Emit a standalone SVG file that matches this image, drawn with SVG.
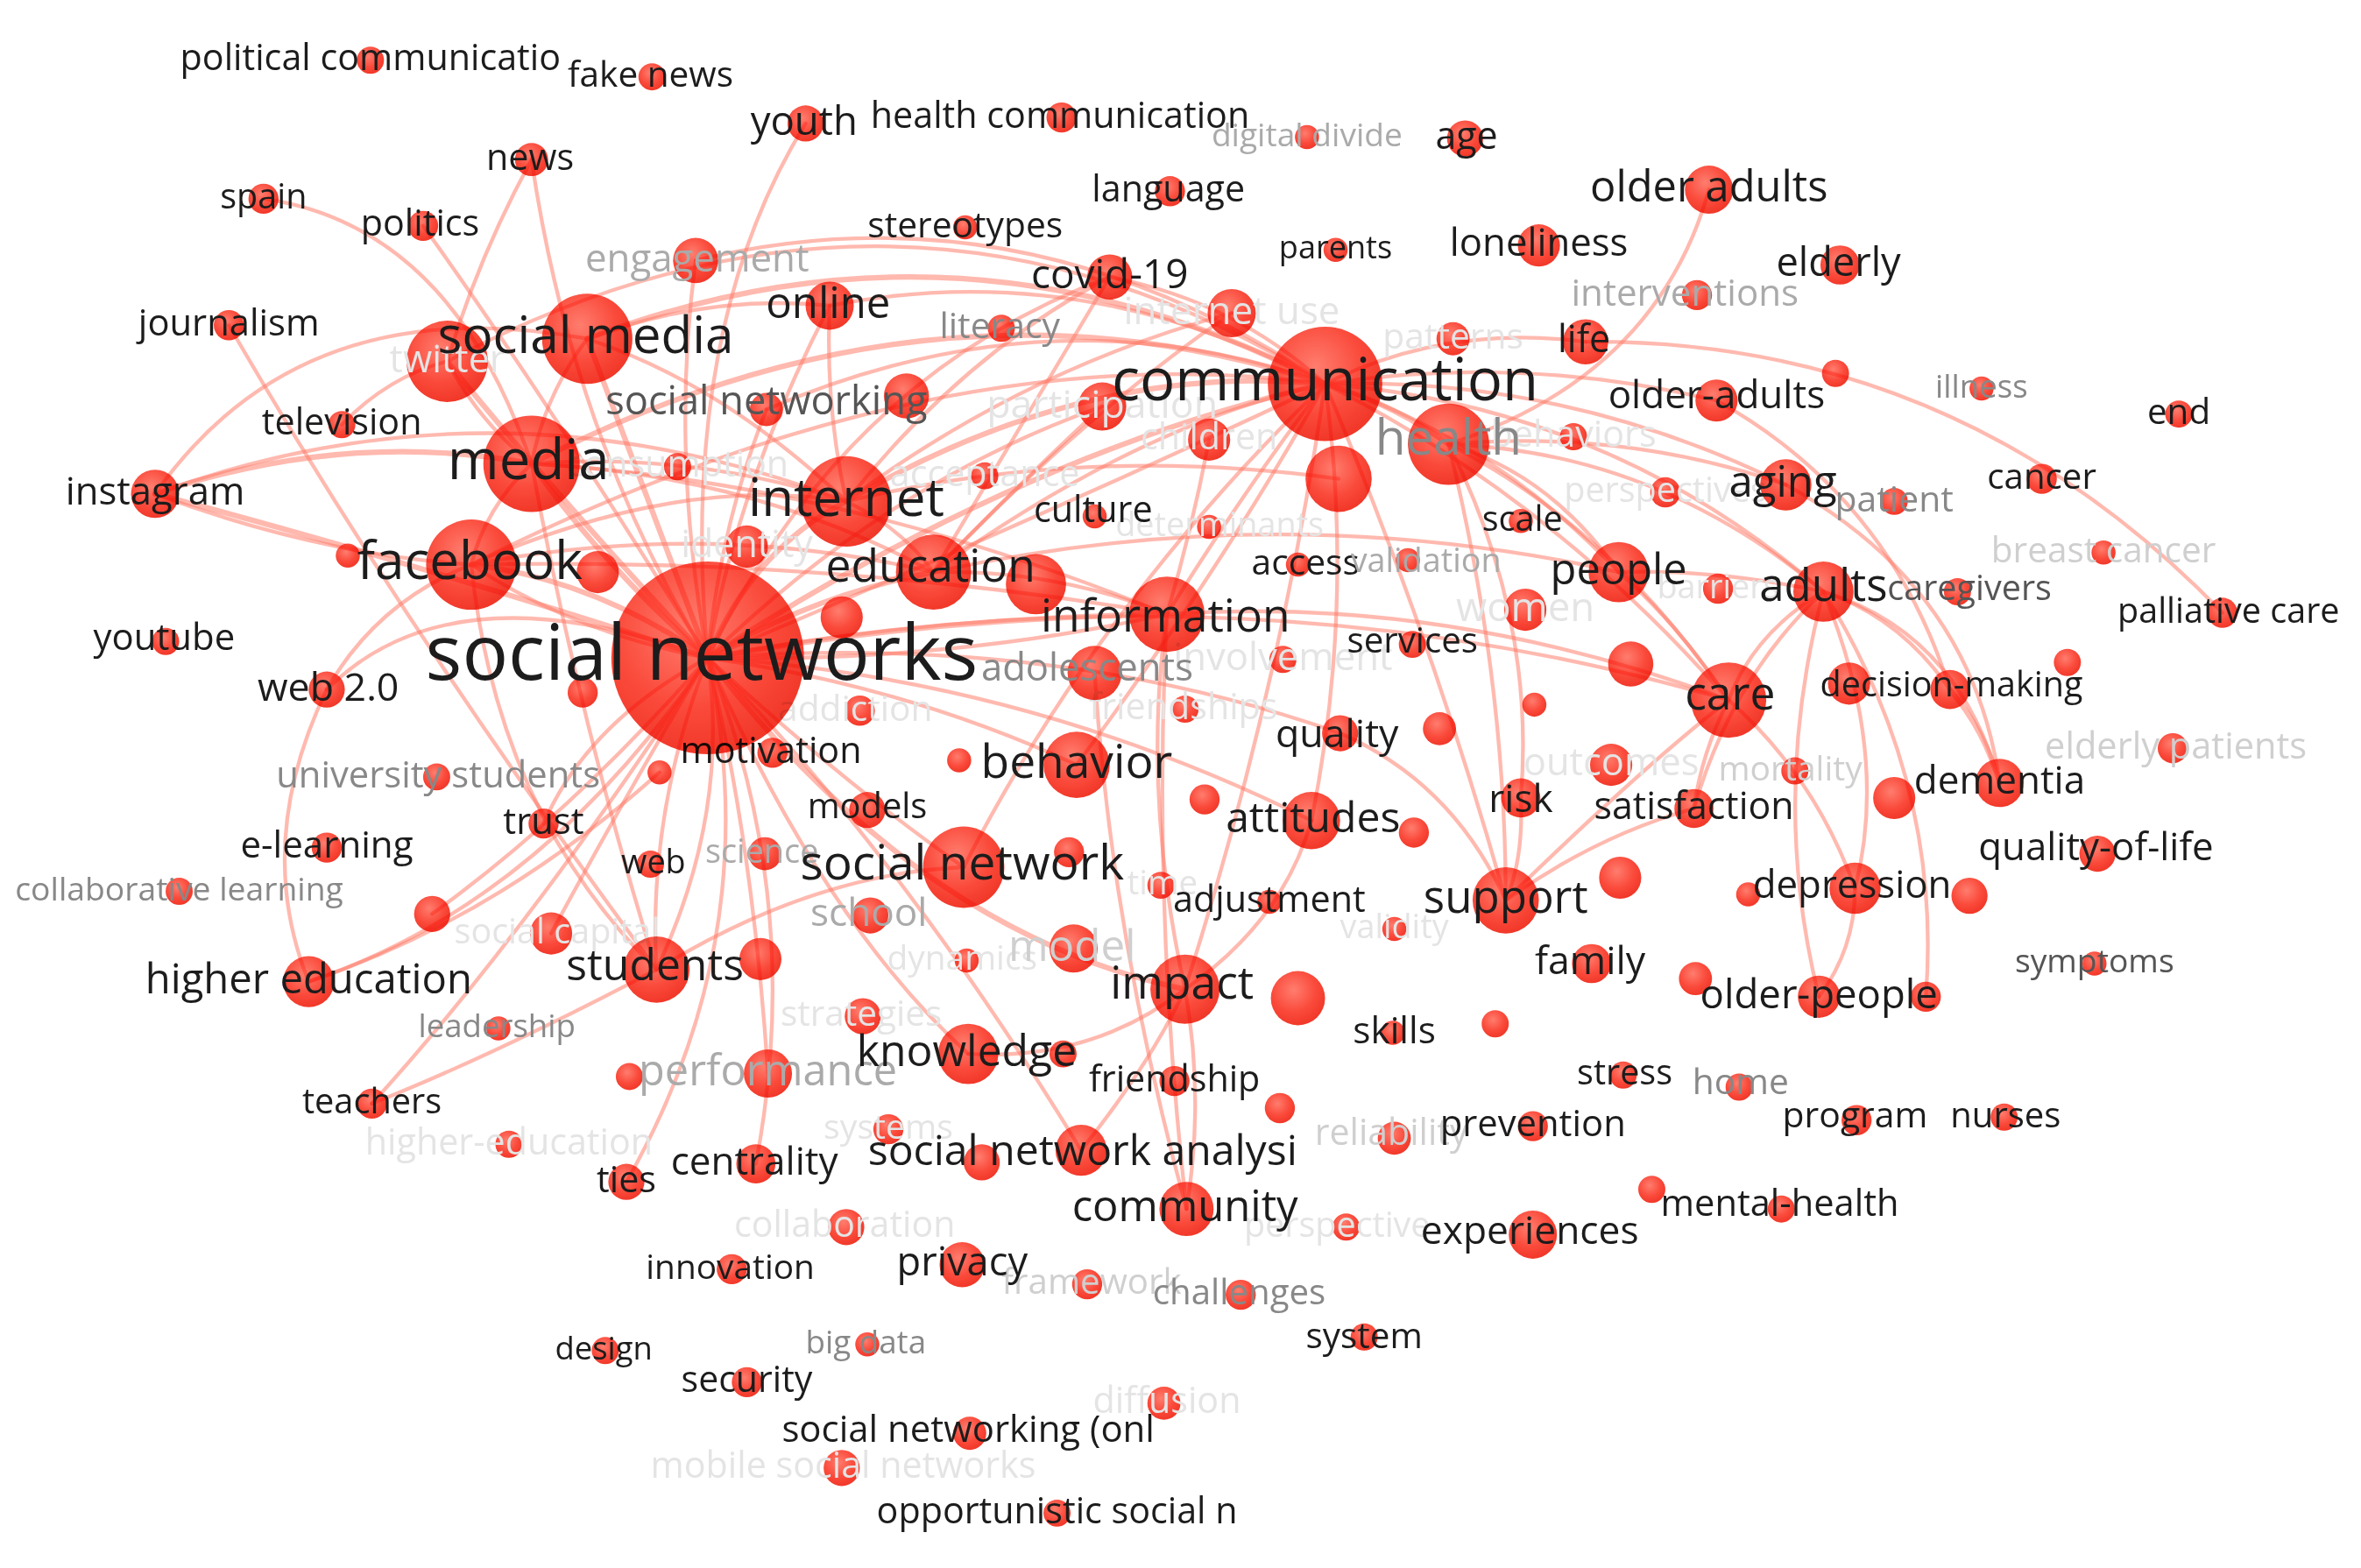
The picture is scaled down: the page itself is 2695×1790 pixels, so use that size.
<svg xmlns="http://www.w3.org/2000/svg" width="2695" height="1790" viewBox="0 0 2695 1790">
<defs>
<radialGradient id="rg" cx="0.42" cy="0.35" r="0.68">
<stop offset="0" stop-color="#ff7d6e"/>
<stop offset="0.6" stop-color="#fa4a3b"/>
<stop offset="1" stop-color="#f03627"/>
</radialGradient>
<style>
.e{fill:none;stroke:#ff7866;stroke-opacity:.52;stroke-width:2.5;stroke-linecap:round}
.t{stroke-width:3.6}
circle{fill:url(#rg);mix-blend-mode:multiply}
text{font-family:"Open Sans","Noto Sans","DejaVu Sans",sans-serif;text-anchor:middle}
.d{fill:#1c1c1c}.g1{fill:#555}.g2{fill:#888}.g3{fill:#aaa}.g4{fill:#cfcfcf}.g5{fill:#e4e4e4}
</style>
</defs>
<rect width="2695" height="1790" fill="#fff"/>
<g transform="scale(1.71875)">
<g id="edges">
<path class="e t" d="M470 437Q680 300 880 255"/>
<path class="e" d="M470 437Q700 340 880 255"/>
<path class="e t" d="M390 225Q640 130 880 255"/>
<path class="e" d="M297 240Q600 80 880 255"/>
<path class="e t" d="M353 308Q620 170 880 255"/>
<path class="e" d="M313 375Q620 220 880 255"/>
<path class="e t" d="M562 333Q720 240 880 255"/>
<path class="e" d="M620 380Q760 280 880 255"/>
<path class="e" d="M775 408Q830 320 880 255"/>
<path class="e" d="M715 508Q810 380 880 255"/>
<path class="e" d="M640 576Q730 400 880 255"/>
<path class="e" d="M787 657Q850 460 880 255"/>
<path class="e" d="M871 545Q900 400 880 255"/>
<path class="e" d="M1000 598Q950 420 880 255"/>
<path class="e" d="M551 203Q720 170 880 255"/>
<path class="e" d="M737 184Q820 200 880 255"/>
<path class="e" d="M462 173Q680 120 880 255"/>
<path class="e" d="M509 272Q700 190 880 255"/>
<path class="e t" d="M880 255Q925 268 962 295"/>
<path class="e" d="M880 255Q990 290 1075 380"/>
<path class="e" d="M880 255Q1070 270 1211 393"/>
<path class="e" d="M880 255Q1030 330 1148 465"/>
<path class="e" d="M880 255Q1040 250 1186 322"/>
<path class="e" d="M880 255Q1010 235 1140 266"/>
<path class="e" d="M880 255Q960 215 1053 227"/>
<path class="e" d="M1053 227Q1300 225 1476 407"/>
<path class="e" d="M1135 126Q1100 250 962 295"/>
<path class="e" d="M962 295Q1070 350 1148 465"/>
<path class="e" d="M962 295Q1030 315 1075 380"/>
<path class="e" d="M962 295Q1100 300 1211 393"/>
<path class="e" d="M962 295Q1080 285 1186 322"/>
<path class="e" d="M962 295Q1020 410 1010 530"/>
<path class="e" d="M962 295Q1000 450 1000 598"/>
<path class="e" d="M1075 380Q1140 378 1211 393"/>
<path class="e" d="M1075 380Q1115 415 1148 465"/>
<path class="e" d="M1211 393Q1165 420 1148 465"/>
<path class="e" d="M1211 393Q1262 410 1295 458"/>
<path class="e t" d="M1295 458Q1318 485 1328 520"/>
<path class="e" d="M1211 393Q1300 420 1328 520"/>
<path class="e" d="M1211 393Q1255 500 1232 590"/>
<path class="e" d="M1211 393Q1175 530 1208 662"/>
<path class="e" d="M1232 590Q1232 630 1208 662"/>
<path class="e" d="M1211 393Q1150 450 1125 537"/>
<path class="e" d="M1125 537Q1060 555 1000 598"/>
<path class="e" d="M1148 465Q1205 515 1232 590"/>
<path class="e" d="M1148 465Q1130 500 1125 537"/>
<path class="e" d="M1140 266Q1255 330 1295 458"/>
<path class="e" d="M1186 322Q1310 390 1328 520"/>
<path class="e" d="M1211 393Q1290 520 1279 662"/>
<path class="e" d="M1000 598Q1090 510 1148 465"/>
<path class="e" d="M775 408Q960 395 1148 465"/>
<path class="e" d="M470 437Q820 370 1148 465"/>
<path class="e" d="M890 487Q965 520 1000 598"/>
<path class="e" d="M470 437Q700 420 890 487"/>
<path class="e" d="M1010 530Q1012 570 1000 598"/>
<path class="e" d="M620 380Q850 330 1075 380"/>
<path class="e t" d="M470 437Q610 620 787 657"/>
<path class="e" d="M470 437Q560 520 640 576"/>
<path class="e" d="M643 700Q545 610 470 437"/>
<path class="e" d="M643 700Q725 705 787 657"/>
<path class="e" d="M787 657Q852 612 871 545"/>
<path class="e" d="M787 657Q758 525 775 408"/>
<path class="e" d="M788 803Q738 620 727 447"/>
<path class="e" d="M788 803Q765 600 775 408"/>
<path class="e" d="M787 657Q800 730 788 803"/>
<path class="e" d="M718 764Q600 570 470 437"/>
<path class="e" d="M718 764Q765 705 787 657"/>
<path class="e" d="M715 508Q600 455 470 437"/>
<path class="e" d="M871 545Q680 450 470 437"/>
<path class="e t" d="M775 408Q620 410 470 437"/>
<path class="e" d="M775 408Q630 440 470 437"/>
<path class="e t" d="M620 380Q540 395 470 437"/>
<path class="e t" d="M562 333Q500 365 470 437"/>
<path class="e" d="M562 333Q460 300 353 308"/>
<path class="e t" d="M353 308Q400 375 470 437"/>
<path class="e t" d="M390 225Q430 330 470 437"/>
<path class="e t" d="M297 240Q370 330 470 437"/>
<path class="e t" d="M313 375Q395 385 470 437"/>
<path class="e" d="M313 375Q380 420 470 437"/>
<path class="e" d="M551 203Q490 320 470 437"/>
<path class="e" d="M737 184Q560 250 470 437"/>
<path class="e" d="M462 173Q445 300 470 437"/>
<path class="e" d="M509 272Q478 350 470 437"/>
<path class="e" d="M818 208Q680 245 562 333"/>
<path class="e" d="M818 208Q720 275 620 380"/>
<path class="e" d="M732 270Q680 318 620 380"/>
<path class="e" d="M732 270Q590 320 470 437"/>
<path class="e" d="M803 292Q792 350 775 408"/>
<path class="e" d="M889 318Q720 295 562 333"/>
<path class="e" d="M562 333Q598 350 620 380"/>
<path class="e" d="M562 333Q548 270 551 203"/>
<path class="e" d="M390 225Q470 195 551 203"/>
<path class="e" d="M390 225Q480 255 562 333"/>
<path class="e" d="M353 308Q322 338 313 375"/>
<path class="e" d="M390 225Q362 262 353 308"/>
<path class="e" d="M297 240Q318 280 353 308"/>
<path class="e" d="M313 375Q450 315 562 333"/>
<path class="e" d="M313 375Q470 345 620 380"/>
<path class="e" d="M353 308Q500 315 620 380"/>
<path class="e" d="M353 308Q560 320 775 408"/>
<path class="e" d="M313 375Q550 370 775 408"/>
<path class="e" d="M620 380Q700 378 775 408"/>
<path class="e" d="M737 184Q640 235 562 333"/>
<path class="e" d="M737 184Q680 280 620 380"/>
<path class="e" d="M217 458Q250 400 313 375"/>
<path class="e" d="M217 458Q300 375 470 437"/>
<path class="e" d="M217 458Q168 560 205 652"/>
<path class="e" d="M205 652Q360 600 470 437"/>
<path class="e" d="M205 652Q330 610 438 513"/>
<path class="e" d="M247 733Q350 620 470 437"/>
<path class="e" d="M247 733Q330 700 436 644"/>
<path class="e" d="M416 785Q510 620 470 437"/>
<path class="e" d="M502 773Q535 600 470 437"/>
<path class="e" d="M510 713Q500 560 470 437"/>
<path class="e" d="M436 644Q430 540 470 437"/>
<path class="e" d="M436 644Q485 540 470 437"/>
<path class="e" d="M436 644Q540 580 640 576"/>
<path class="e" d="M361 547Q390 480 470 437"/>
<path class="e" d="M313 375Q330 540 436 644"/>
<path class="e" d="M353 308Q385 480 436 644"/>
<path class="e" d="M287 607Q380 540 470 437"/>
<path class="e" d="M366 620Q420 520 470 437"/>
<path class="e" d="M152 216Q270 420 436 644"/>
<path class="e" d="M175 132Q300 150 353 308"/>
<path class="e" d="M281 150Q360 260 470 437"/>
<path class="e" d="M353 106Q318 170 297 240"/>
<path class="e" d="M353 106Q380 290 470 437"/>
<path class="e" d="M535 82Q450 220 470 437"/>
<path class="e" d="M227 282Q258 250 297 240"/>
<path class="e t" d="M103 328Q230 285 353 308"/>
<path class="e" d="M103 328Q200 190 390 225"/>
<path class="e" d="M103 328Q210 368 313 375"/>
<path class="e t" d="M103 328Q280 375 470 437"/>
<path class="e" d="M103 328Q330 245 562 333"/>
</g>
<g id="n-twitter"><circle cx="297" cy="240" r="27"/><text class="g5" x="297" y="240" dy=".28em" font-size="25">twitter</text></g>
<g id="n-internet-use"><circle cx="818" cy="208" r="16"/><text class="g5" x="818" y="208" dy=".28em" font-size="25.5">internet use</text></g>
<g id="n-patterns"><circle cx="965" cy="225" r="11"/><text class="g5" x="965" y="225" dy=".28em" font-size="23.7">patterns</text></g>
<g id="n-participation"><circle cx="732" cy="270" r="16"/><text class="g5" x="732" y="270" dy=".28em" font-size="26">participation</text></g>
<g id="n-children"><circle cx="803" cy="292" r="14"/><text class="g5" x="803" y="292" dy=".28em" font-size="24">children</text></g>
<g id="n-behaviors"><circle cx="1045" cy="290" r="9"/><text class="g5" x="1045" y="290" dy=".28em" font-size="24">behaviors</text></g>
<g id="n-consumption"><circle cx="450" cy="310" r="9"/><text class="g5" x="450" y="310" dy=".28em" font-size="24">consumption</text></g>
<g id="n-acceptance"><circle cx="654" cy="316" r="9"/><text class="g5" x="654" y="316" dy=".28em" font-size="24">acceptance</text></g>
<g id="n-determinants"><circle cx="803" cy="350" r="8"/><text class="g5" x="810" y="350" dy=".28em" font-size="22">determinants</text></g>
<g id="n-perspectives"><circle cx="1106" cy="327" r="10"/><text class="g5" x="1106" y="327" dy=".28em" font-size="23">perspectives</text></g>
<g id="n-identity"><circle cx="496" cy="363" r="14"/><text class="g5" x="496" y="363" dy=".28em" font-size="25">identity</text></g>
<g id="n-barriers"><circle cx="1141" cy="391" r="10"/><text class="g5" x="1141" y="391" dy=".28em" font-size="22">barriers</text></g>
<g id="n-breast-cancer"><circle cx="1397" cy="367" r="8"/><text class="g4" x="1397" y="367" dy=".28em" font-size="23.6">breast cancer</text></g>
<g id="n-women"><circle cx="1013" cy="405" r="14"/><text class="g5" x="1013" y="405" dy=".28em" font-size="26.5">women</text></g>
<g id="n-involvement"><circle cx="852" cy="438" r="9"/><text class="g5" x="852" y="438" dy=".28em" font-size="25.4">involvement</text></g>
<g id="n-friendships"><circle cx="787" cy="471" r="9"/><text class="g5" x="786" y="471" dy=".28em" font-size="24">friendships</text></g>
<g id="n-addiction"><circle cx="571" cy="472" r="10"/><text class="g5" x="568" y="472" dy=".28em" font-size="23.7">addiction</text></g>
<g id="n-outcomes"><circle cx="1070" cy="508" r="14"/><text class="g5" x="1070" y="508" dy=".28em" font-size="25.3">outcomes</text></g>
<g id="n-mortality"><circle cx="1192" cy="512" r="9"/><text class="g4" x="1189" y="512" dy=".28em" font-size="22.7">mortality</text></g>
<g id="n-elderly-patients"><circle cx="1443" cy="497" r="10"/><text class="g4" x="1445" y="497" dy=".28em" font-size="24.2">elderly patients</text></g>
<g id="n-time"><circle cx="771" cy="588" r="9"/><text class="g5" x="772" y="588" dy=".28em" font-size="22.4">time</text></g>
<g id="n-validity"><circle cx="926" cy="617" r="8"/><text class="g5" x="926" y="617" dy=".28em" font-size="22">validity</text></g>
<g id="n-social-capital"><circle cx="366" cy="620" r="14"/><text class="g5" x="370" y="620" dy=".28em" font-size="23">social capital</text></g>
<g id="n-dynamics"><circle cx="642" cy="638" r="8"/><text class="g5" x="639" y="638" dy=".28em" font-size="22.6">dynamics</text></g>
<g id="n-strategies"><circle cx="573" cy="675" r="12"/><text class="g5" x="572" y="675" dy=".28em" font-size="23.6">strategies</text></g>
<g id="n-higher-education-2"><circle cx="338" cy="760" r="9"/><text class="g5" x="338" y="760" dy=".28em" font-size="24">higher-education</text></g>
<g id="n-systems"><circle cx="590" cy="750" r="10"/><text class="g5" x="590" y="750" dy=".28em" font-size="22.8">systems</text></g>
<g id="n-collaboration"><circle cx="562" cy="815" r="12"/><text class="g5" x="561" y="815" dy=".28em" font-size="23.9">collaboration</text></g>
<g id="n-perspective"><circle cx="894" cy="815" r="9"/><text class="g5" x="888" y="815" dy=".28em" font-size="23">perspective</text></g>
<g id="n-diffusion"><circle cx="773" cy="932" r="11"/><text class="g5" x="775" y="932" dy=".28em" font-size="24">diffusion</text></g>
<g id="n-mobile-social-networks"><circle cx="559" cy="975" r="12"/><text class="g5" x="560" y="975" dy=".28em" font-size="24">mobile social networks</text></g>
<g id="n-reliability"><circle cx="926" cy="756" r="11"/><text class="g4" x="924" y="754" dy=".28em" font-size="23.9">reliability</text></g>
<g id="n-framework"><circle cx="722" cy="853" r="10"/><text class="g4" x="725" y="853" dy=".28em" font-size="23.4">framework</text></g>
<g id="n-model"><circle cx="713" cy="630" r="16"/><text class="g4" x="712" y="630" dy=".28em" font-size="28.7">model</text></g>
<g id="n-u602"><circle cx="602" cy="263" r="15"/></g>
<g id="n-u1219"><circle cx="1219" cy="248" r="9"/></g>
<g id="n-u889"><circle cx="889" cy="318" r="22"/></g>
<g id="n-u231"><circle cx="231" cy="369" r="8"/></g>
<g id="n-u397"><circle cx="397" cy="380" r="14"/></g>
<g id="n-u688"><circle cx="688" cy="388" r="20"/></g>
<g id="n-u559"><circle cx="559" cy="410" r="14"/></g>
<g id="n-u1083"><circle cx="1083" cy="441" r="15"/></g>
<g id="n-u1373"><circle cx="1373" cy="440" r="9"/></g>
<g id="n-u387"><circle cx="387" cy="460" r="10"/></g>
<g id="n-u1228"><circle cx="1228" cy="454" r="14"/></g>
<g id="n-u438"><circle cx="438" cy="513" r="8"/></g>
<g id="n-u956"><circle cx="956" cy="484" r="11"/></g>
<g id="n-u1019"><circle cx="1019" cy="468" r="8"/></g>
<g id="n-u637"><circle cx="637" cy="505" r="8"/></g>
<g id="n-u1258"><circle cx="1258" cy="530" r="14"/></g>
<g id="n-u939"><circle cx="939" cy="553" r="10"/></g>
<g id="n-u800"><circle cx="800" cy="531" r="10"/></g>
<g id="n-u710"><circle cx="710" cy="566" r="10"/></g>
<g id="n-u1076"><circle cx="1076" cy="583" r="14"/></g>
<g id="n-u1161"><circle cx="1161" cy="594" r="8"/></g>
<g id="n-u1308"><circle cx="1308" cy="595" r="12"/></g>
<g id="n-u287"><circle cx="287" cy="607" r="12"/></g>
<g id="n-u505"><circle cx="505" cy="637" r="14"/></g>
<g id="n-u862"><circle cx="862" cy="663" r="18"/></g>
<g id="n-u1126"><circle cx="1126" cy="650" r="11"/></g>
<g id="n-u1279"><circle cx="1279" cy="662" r="10"/></g>
<g id="n-u993"><circle cx="993" cy="680" r="9"/></g>
<g id="n-u706"><circle cx="706" cy="700" r="9"/></g>
<g id="n-u850"><circle cx="850" cy="736" r="10"/></g>
<g id="n-u418"><circle cx="418" cy="715" r="9"/></g>
<g id="n-u652"><circle cx="652" cy="772" r="12"/></g>
<g id="n-u1097"><circle cx="1097" cy="790" r="9"/></g>
<g id="n-political-communicatio"><circle cx="246" cy="40" r="9"/><text class="d" x="246" y="40" dy=".28em" font-size="24">political communicatio</text></g>
<g id="n-fake-news"><circle cx="433" cy="51" r="9"/><text class="d" x="432" y="51" dy=".28em" font-size="23.6">fake news</text></g>
<g id="n-youth"><circle cx="535" cy="82" r="12"/><text class="d" x="534" y="82" dy=".28em" font-size="26.5">youth</text></g>
<g id="n-health-communication"><circle cx="705" cy="78" r="10"/><text class="d" x="704" y="78" dy=".28em" font-size="24">health communication</text></g>
<g id="n-digital-divide"><circle cx="868" cy="91" r="8"/><text class="g3" x="868" y="91" dy=".28em" font-size="21.6">digital divide</text></g>
<g id="n-age"><circle cx="973" cy="92" r="12"/><text class="d" x="974" y="92" dy=".28em" font-size="25">age</text></g>
<g id="n-news"><circle cx="353" cy="106" r="11"/><text class="d" x="352" y="106" dy=".28em" font-size="24">news</text></g>
<g id="n-spain"><circle cx="175" cy="132" r="10"/><text class="d" x="175" y="132" dy=".28em" font-size="23">spain</text></g>
<g id="n-politics"><circle cx="281" cy="150" r="10"/><text class="d" x="279" y="150" dy=".28em" font-size="24">politics</text></g>
<g id="n-engagement"><circle cx="462" cy="173" r="15"/><text class="g3" x="463" y="173" dy=".28em" font-size="25.5">engagement</text></g>
<g id="n-stereotypes"><circle cx="641" cy="151" r="8"/><text class="d" x="641" y="151" dy=".28em" font-size="23.7">stereotypes</text></g>
<g id="n-language"><circle cx="777" cy="127" r="10"/><text class="d" x="776" y="127" dy=".28em" font-size="24">language</text></g>
<g id="n-parents"><circle cx="887" cy="166" r="8"/><text class="d" x="887" y="166" dy=".28em" font-size="21">parents</text></g>
<g id="n-loneliness"><circle cx="1022" cy="163" r="14"/><text class="d" x="1022" y="163" dy=".28em" font-size="25.4">loneliness</text></g>
<g id="n-older-adults"><circle cx="1135" cy="126" r="16"/><text class="d" x="1135" y="126" dy=".28em" font-size="28.4">older adults</text></g>
<g id="n-elderly"><circle cx="1222" cy="176" r="13"/><text class="d" x="1221" y="176" dy=".28em" font-size="26.3">elderly</text></g>
<g id="n-interventions"><circle cx="1127" cy="196" r="10"/><text class="g3" x="1119" y="196" dy=".28em" font-size="24.5">interventions</text></g>
<g id="n-journalism"><circle cx="152" cy="216" r="10"/><text class="d" x="152" y="216" dy=".28em" font-size="24.3">journalism</text></g>
<g id="n-covid-19"><circle cx="737" cy="184" r="15"/><text class="d" x="737" y="184" dy=".28em" font-size="26.7">covid-19</text></g>
<g id="n-online"><circle cx="551" cy="203" r="16"/><text class="d" x="550" y="203" dy=".28em" font-size="28.6">online</text></g>
<g id="n-literacy"><circle cx="665" cy="218" r="9"/><text class="g2" x="664" y="218" dy=".28em" font-size="23.8">literacy</text></g>
<g id="n-life"><circle cx="1053" cy="227" r="15"/><text class="d" x="1052" y="227" dy=".28em" font-size="25">life</text></g>
<g id="n-television"><circle cx="227" cy="282" r="9"/><text class="d" x="227" y="282" dy=".28em" font-size="24">television</text></g>
<g id="n-social-networking"><circle cx="509" cy="272" r="11"/><text class="g1" x="509" y="268" dy=".28em" font-size="26.3">social networking</text></g>
<g id="n-older-adults-2"><circle cx="1140" cy="266" r="14"/><text class="d" x="1140" y="264" dy=".28em" font-size="25.6">older-adults</text></g>
<g id="n-illness"><circle cx="1316" cy="258" r="8"/><text class="g2" x="1316" y="258" dy=".28em" font-size="21.3">illness</text></g>
<g id="n-end"><circle cx="1447" cy="275" r="9"/><text class="d" x="1447" y="275" dy=".28em" font-size="23.5">end</text></g>
<g id="n-instagram"><circle cx="103" cy="328" r="16"/><text class="d" x="103" y="328" dy=".28em" font-size="25.4">instagram</text></g>
<g id="n-culture"><circle cx="727" cy="343" r="8"/><text class="d" x="726" y="340" dy=".28em" font-size="24">culture</text></g>
<g id="n-aging"><circle cx="1186" cy="322" r="17"/><text class="d" x="1184" y="322" dy=".28em" font-size="28.6">aging</text></g>
<g id="n-patient"><circle cx="1258" cy="333" r="9"/><text class="g2" x="1258" y="333" dy=".28em" font-size="23.8">patient</text></g>
<g id="n-cancer"><circle cx="1356" cy="318" r="10"/><text class="d" x="1356" y="318" dy=".28em" font-size="23.4">cancer</text></g>
<g id="n-scale"><circle cx="1010" cy="346" r="8"/><text class="d" x="1011" y="346" dy=".28em" font-size="23">scale</text></g>
<g id="n-access"><circle cx="862" cy="375" r="8"/><text class="d" x="867" y="375" dy=".28em" font-size="23.7">access</text></g>
<g id="n-validation"><circle cx="935" cy="372" r="8"/><text class="g3" x="947" y="374" dy=".28em" font-size="22">validation</text></g>
<g id="n-people"><circle cx="1075" cy="380" r="20"/><text class="d" x="1075" y="380" dy=".28em" font-size="28.4">people</text></g>
<g id="n-caregivers"><circle cx="1300" cy="393" r="9"/><text class="g1" x="1308" y="392" dy=".28em" font-size="23">caregivers</text></g>
<g id="n-palliative-care"><circle cx="1476" cy="407" r="10"/><text class="d" x="1480" y="407" dy=".28em" font-size="23">palliative care</text></g>
<g id="n-youtube"><circle cx="110" cy="426" r="9"/><text class="d" x="109" y="425" dy=".28em" font-size="24.4">youtube</text></g>
<g id="n-services"><circle cx="938" cy="428" r="9"/><text class="d" x="938" y="427" dy=".28em" font-size="23.4">services</text></g>
<g id="n-adolescents"><circle cx="727" cy="447" r="18"/><text class="g2" x="722" y="445" dy=".28em" font-size="25.4">adolescents</text></g>
<g id="n-web-2-0"><circle cx="217" cy="458" r="12"/><text class="d" x="218" y="458" dy=".28em" font-size="26">web 2.0</text></g>
<g id="n-decision-making"><circle cx="1295" cy="458" r="13"/><text class="d" x="1296" y="456" dy=".28em" font-size="23">decision-making</text></g>
<g id="n-motivation"><circle cx="513" cy="500" r="10"/><text class="d" x="512" y="500" dy=".28em" font-size="24">motivation</text></g>
<g id="n-quality"><circle cx="890" cy="487" r="12"/><text class="d" x="888" y="489" dy=".28em" font-size="26">quality</text></g>
<g id="n-university-students"><circle cx="290" cy="516" r="9"/><text class="g2" x="291" y="516" dy=".28em" font-size="24.3">university students</text></g>
<g id="n-dementia"><circle cx="1328" cy="520" r="16"/><text class="d" x="1328" y="520" dy=".28em" font-size="25.6">dementia</text></g>
<g id="n-satisfaction"><circle cx="1125" cy="537" r="13"/><text class="d" x="1125" y="537" dy=".28em" font-size="25">satisfaction</text></g>
<g id="n-risk"><circle cx="1010" cy="530" r="13"/><text class="d" x="1010" y="532" dy=".28em" font-size="25.6">risk</text></g>
<g id="n-models"><circle cx="576" cy="538" r="12"/><text class="d" x="576" y="537" dy=".28em" font-size="23.2">models</text></g>
<g id="n-trust"><circle cx="361" cy="547" r="10"/><text class="d" x="361" y="547" dy=".28em" font-size="24.3">trust</text></g>
<g id="n-e-learning"><circle cx="217" cy="563" r="10"/><text class="d" x="217" y="563" dy=".28em" font-size="24.5">e-learning</text></g>
<g id="n-web"><circle cx="432" cy="574" r="9"/><text class="d" x="434" y="574" dy=".28em" font-size="22">web</text></g>
<g id="n-science"><circle cx="508" cy="567" r="11"/><text class="g3" x="506" y="567" dy=".28em" font-size="22">science</text></g>
<g id="n-adjustment"><circle cx="843" cy="599" r="8"/><text class="d" x="843" y="599" dy=".28em" font-size="24">adjustment</text></g>
<g id="n-quality-of-life"><circle cx="1393" cy="567" r="12"/><text class="d" x="1392" y="564" dy=".28em" font-size="25.5">quality-of-life</text></g>
<g id="n-collaborative-learning"><circle cx="119" cy="592" r="9"/><text class="g2" x="119" y="592" dy=".28em" font-size="21.7">collaborative learning</text></g>
<g id="n-school"><circle cx="578" cy="608" r="12"/><text class="g3" x="577" y="608" dy=".28em" font-size="25.7">school</text></g>
<g id="n-family"><circle cx="1057" cy="640" r="13"/><text class="d" x="1056" y="640" dy=".28em" font-size="26">family</text></g>
<g id="n-older-people"><circle cx="1208" cy="662" r="14"/><text class="d" x="1208" y="662" dy=".28em" font-size="26.5">older-people</text></g>
<g id="n-symptoms"><circle cx="1391" cy="640" r="8"/><text class="g1" x="1391" y="640" dy=".28em" font-size="21.7">symptoms</text></g>
<g id="n-leadership"><circle cx="331" cy="683" r="8"/><text class="g2" x="330" y="683" dy=".28em" font-size="21.3">leadership</text></g>
<g id="n-skills"><circle cx="925" cy="686" r="8"/><text class="d" x="926" y="686" dy=".28em" font-size="24.6">skills</text></g>
<g id="n-friendship"><circle cx="780" cy="718" r="10"/><text class="d" x="780" y="718" dy=".28em" font-size="24">friendship</text></g>
<g id="n-stress"><circle cx="1078" cy="714" r="9"/><text class="d" x="1079" y="714" dy=".28em" font-size="23">stress</text></g>
<g id="n-home"><circle cx="1155" cy="722" r="9"/><text class="g2" x="1156" y="720" dy=".28em" font-size="23.7">home</text></g>
<g id="n-teachers"><circle cx="247" cy="733" r="10"/><text class="d" x="247" y="733" dy=".28em" font-size="23.1">teachers</text></g>
<g id="n-performance"><circle cx="510" cy="713" r="16"/><text class="g3" x="510" y="713" dy=".28em" font-size="28.3">performance</text></g>
<g id="n-ties"><circle cx="416" cy="785" r="12"/><text class="d" x="416" y="785" dy=".28em" font-size="24">ties</text></g>
<g id="n-centrality"><circle cx="502" cy="773" r="13"/><text class="d" x="501" y="773" dy=".28em" font-size="25.6">centrality</text></g>
<g id="n-prevention"><circle cx="1018" cy="748" r="10"/><text class="d" x="1018" y="748" dy=".28em" font-size="24.3">prevention</text></g>
<g id="n-nurses"><circle cx="1331" cy="742" r="9"/><text class="d" x="1332" y="742" dy=".28em" font-size="23.3">nurses</text></g>
<g id="n-program"><circle cx="1233" cy="744" r="10"/><text class="d" x="1232" y="742" dy=".28em" font-size="23.8">program</text></g>
<g id="n-mental-health"><circle cx="1183" cy="803" r="9"/><text class="d" x="1182" y="801" dy=".28em" font-size="24.2">mental-health</text></g>
<g id="n-experiences"><circle cx="1018" cy="820" r="16"/><text class="d" x="1016" y="819" dy=".28em" font-size="25.8">experiences</text></g>
<g id="n-innovation"><circle cx="486" cy="843" r="10"/><text class="d" x="485" y="843" dy=".28em" font-size="22.6">innovation</text></g>
<g id="n-privacy"><circle cx="639" cy="840" r="15"/><text class="d" x="639" y="840" dy=".28em" font-size="26.3">privacy</text></g>
<g id="n-challenges"><circle cx="824" cy="860" r="10"/><text class="g2" x="823" y="860" dy=".28em" font-size="23.4">challenges</text></g>
<g id="n-system"><circle cx="906" cy="888" r="9"/><text class="d" x="906" y="889" dy=".28em" font-size="23.5">system</text></g>
<g id="n-design"><circle cx="402" cy="897" r="9"/><text class="d" x="401" y="897" dy=".28em" font-size="21.2">design</text></g>
<g id="n-big-data"><circle cx="576" cy="893" r="8"/><text class="g2" x="575" y="893" dy=".28em" font-size="21.4">big data</text></g>
<g id="n-security"><circle cx="496" cy="918" r="10"/><text class="d" x="496" y="918" dy=".28em" font-size="23.9">security</text></g>
<g id="n-social-networking-onl"><circle cx="644" cy="952" r="11"/><text class="d" x="643" y="951" dy=".28em" font-size="24.4">social networking (onl</text></g>
<g id="n-opportunistic-social-n"><circle cx="702" cy="1005" r="9"/><text class="d" x="702" y="1005" dy=".28em" font-size="24">opportunistic social n</text></g>
<g id="n-higher-education"><circle cx="205" cy="652" r="17"/><text class="d" x="205" y="652" dy=".28em" font-size="27.5">higher education</text></g>
<g id="n-knowledge"><circle cx="643" cy="700" r="20"/><text class="d" x="642" y="700" dy=".28em" font-size="29">knowledge</text></g>
<g id="n-social-network-analysi"><circle cx="718" cy="764" r="17"/><text class="d" x="719" y="766" dy=".28em" font-size="28">social network analysi</text></g>
<g id="n-community"><circle cx="788" cy="803" r="18"/><text class="d" x="787" y="803" dy=".28em" font-size="28.5">community</text></g>
<g id="n-depression"><circle cx="1232" cy="590" r="17"/><text class="d" x="1230" y="589" dy=".28em" font-size="25.5">depression</text></g>
<g id="n-attitudes"><circle cx="871" cy="545" r="19"/><text class="d" x="872" y="545" dy=".28em" font-size="28">attitudes</text></g>
<g id="n-support"><circle cx="1000" cy="598" r="22"/><text class="d" x="1000" y="598" dy=".28em" font-size="29.7">support</text></g>
<g id="n-students"><circle cx="436" cy="644" r="22"/><text class="d" x="435" y="643" dy=".28em" font-size="29">students</text></g>
<g id="n-impact"><circle cx="787" cy="657" r="23"/><text class="d" x="785" y="655" dy=".28em" font-size="30">impact</text></g>
<g id="n-adults"><circle cx="1211" cy="393" r="20"/><text class="d" x="1211" y="391" dy=".28em" font-size="29.7">adults</text></g>
<g id="n-care"><circle cx="1148" cy="465" r="25"/><text class="d" x="1149" y="463" dy=".28em" font-size="30">care</text></g>
<g id="n-behavior"><circle cx="715" cy="508" r="22"/><text class="d" x="715" y="508" dy=".28em" font-size="31">behavior</text></g>
<g id="n-social-network"><circle cx="640" cy="576" r="27"/><text class="d" x="639" y="575" dy=".28em" font-size="32">social network</text></g>
<g id="n-information"><circle cx="775" cy="408" r="25"/><text class="d" x="774" y="411" dy=".28em" font-size="30">information</text></g>
<g id="n-education"><circle cx="620" cy="380" r="25"/><text class="d" x="618" y="378" dy=".28em" font-size="30">education</text></g>
<g id="n-health"><circle cx="962" cy="295" r="27"/><text class="g2" x="962" y="293" dy=".28em" font-size="33">health</text></g>
<g id="n-facebook"><circle cx="313" cy="375" r="30"/><text class="d" x="312" y="375" dy=".28em" font-size="35">facebook</text></g>
<g id="n-internet"><circle cx="562" cy="333" r="30"/><text class="d" x="562" y="333" dy=".28em" font-size="35">internet</text></g>
<g id="n-media"><circle cx="353" cy="308" r="32"/><text class="d" x="351" y="308" dy=".28em" font-size="37">media</text></g>
<g id="n-social-media"><circle cx="390" cy="225" r="30"/><text class="d" x="389" y="225" dy=".28em" font-size="34">social media</text></g>
<g id="n-communication"><circle cx="880" cy="255" r="38"/><text class="d" x="880" y="255" dy=".28em" font-size="39">communication</text></g>
<g id="n-social-networks"><circle cx="470" cy="437" r="64"/><text class="d" x="466" y="437" dy=".28em" font-size="51">social networks</text></g>
</g>
</svg>
